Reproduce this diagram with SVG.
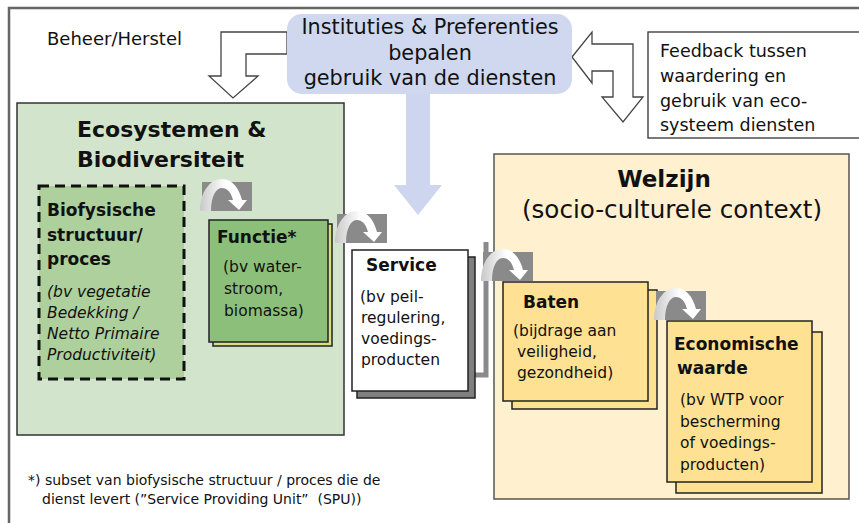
<svg xmlns="http://www.w3.org/2000/svg" width="859" height="523" viewBox="0 0 859 523">
<defs>
<linearGradient id="arcg" x1="0" y1="0" x2="1" y2="0">
<stop offset="0" stop-color="#c9c9c9"/>
<stop offset="0.55" stop-color="#ffffff"/>
<stop offset="1" stop-color="#ffffff"/>
</linearGradient>
<g id="turn">
<rect x="0" y="0" width="50" height="29" fill="#8a8a8a"/>
<path d="M -2 29 C -2 10 8 -3 20 -3 C 30 -3 37 6 40 18 L 45 18 L 37 28 L 26 18 L 31 18 C 29 10 25 6 20 6 C 14 6 9 14 9 29 Z" fill="url(#arcg)"/>
</g>
</defs>
<style>
text{font-family:"DejaVu Sans","Liberation Sans",sans-serif;fill:#111;}
.b{font-weight:bold;}
.i{font-style:italic;}
.box{stroke:#222;stroke-width:1.5;}
.hollow{fill:#fff;stroke:#444;stroke-width:1.3;}
</style>
<rect width="859" height="523" fill="#fff"/>
<!-- frame -->
<path d="M 9 523 V 8 H 859" fill="none" stroke="#666" stroke-width="2.5"/>

<g id="connectors">
<polygon class="hollow" points="287,32 221,32 221,76 209,76 233,98 258,76 246,76 246,54 287,54"/>
<polygon class="hollow" points="572,57 592,32 592,44 633,44 633,97 643,97 623,122 602,97 613,97 613,71 592,71 592,83"/>
<polygon fill="#cdd6ee" points="406,94 430,94 430,185 442,185 418,215 394,185 406,185"/>
<path d="M 486 242 V 375 H 474" fill="none" stroke="#8a8a8a" stroke-width="5"/>
</g>

<g id="beheer"><text x="47" y="45" font-size="18">Beheer/Herstel</text></g>

<g id="instituties">
<rect x="287" y="14" width="285" height="80" rx="15" fill="#cfd8ef"/>
<text x="430" y="34" font-size="20.8" text-anchor="middle">Instituties &amp; Preferenties</text>
<text x="430" y="60" font-size="20.8" text-anchor="middle">bepalen</text>
<text x="430" y="85" font-size="20.8" text-anchor="middle">gebruik van de diensten</text>
</g>

<g id="feedback">
<rect x="648" y="32" width="220" height="106" fill="#fff" stroke="#333" stroke-width="1.3"/>
<text x="660" y="57" font-size="17.5">Feedback tussen</text>
<text x="660" y="82" font-size="17.5">waardering en</text>
<text x="660" y="107" font-size="17.5">gebruik van eco-</text>
<text x="660" y="131" font-size="17.5">systeem diensten</text>
</g>

<g id="ecosystemen">
<rect x="17" y="103" width="327" height="332" fill="#d3e4cc" stroke="#333" stroke-width="1.5"/>
<text class="b" x="77" y="137" font-size="22">Ecosystemen &amp;</text>
<text class="b" x="77" y="167" font-size="22">Biodiversiteit</text>
</g>

<g id="biofysisch">
<rect x="39" y="186" width="145" height="193" fill="#aed09d" stroke="#111" stroke-width="3" stroke-dasharray="10,6"/>
<text class="b" x="47" y="216" font-size="17">Biofysische</text>
<text class="b" x="47" y="241" font-size="17">structuur/</text>
<text class="b" x="47" y="265" font-size="17">proces</text>
<text class="i" x="47" y="297" font-size="15.5">(bv vegetatie</text>
<text class="i" x="47" y="318" font-size="15.5">Bedekking /</text>
<text class="i" x="47" y="339" font-size="15.5">Netto Primaire</text>
<text class="i" x="47" y="360" font-size="15.5">Productiviteit)</text>
</g>

<g id="functie">
<rect class="box" x="213" y="224" width="119" height="122" fill="#d8e07e"/>
<rect class="box" x="209" y="220" width="119" height="122" fill="#8cc07a"/>
<text class="b" x="217" y="243" font-size="17">Functie*</text>
<text x="223" y="272" font-size="15.5">(bv water-</text>
<text x="224" y="294" font-size="15.5">stroom,</text>
<text x="224" y="316" font-size="15.5">biomassa)</text>
</g>

<g id="service">
<rect class="box" x="357" y="257" width="118" height="141" fill="#7f7f7f"/>
<rect class="box" x="352" y="250" width="116" height="141" fill="#fff"/>
<text class="b" x="366" y="271" font-size="17">Service</text>
<text x="360" y="302" font-size="15.5">(bv peil-</text>
<text x="361" y="323" font-size="15.5">regulering,</text>
<text x="361" y="344" font-size="15.5">voedings-</text>
<text x="361" y="365" font-size="15.5">producten</text>
</g>

<g id="welzijn">
<rect x="494" y="154" width="355" height="345" fill="#fff0d0" stroke="#555" stroke-width="1.5"/>
<text class="b" x="664" y="187" font-size="23" text-anchor="middle">Welzijn</text>
<text x="672" y="218" font-size="24.6" text-anchor="middle">(socio-culturele context)</text>
</g>

<g id="baten">
<rect class="box" x="512" y="290" width="145" height="119" fill="#fee193"/>
<rect class="box" x="503" y="282" width="145" height="119" fill="#fee193"/>
<text class="b" x="523" y="308" font-size="17">Baten</text>
<text x="513" y="336" font-size="15.5">(bijdrage aan</text>
<text x="517" y="357" font-size="15.5">veiligheid,</text>
<text x="517" y="378" font-size="15.5">gezondheid)</text>
</g>

<g id="economisch">
<rect class="box" x="676" y="332" width="146" height="161" fill="#fee193"/>
<rect class="box" x="667" y="321" width="145" height="161" fill="#fee193"/>
<text class="b" x="674" y="350" font-size="17">Economische</text>
<text class="b" x="677" y="374" font-size="17">waarde</text>
<text x="680" y="405" font-size="15.5">(bv WTP voor</text>
<text x="680" y="427" font-size="15.5">bescherming</text>
<text x="680" y="448" font-size="15.5">of voedings-</text>
<text x="680" y="470" font-size="15.5">producten)</text>
</g>

<g id="turn-icons">
<use href="#turn" x="202" y="182"/>
<use href="#turn" x="337" y="214"/>
<use href="#turn" x="483" y="252"/>
<use href="#turn" x="656" y="291"/>
</g>

<g id="footnote">
<text x="28" y="485" font-size="14">*) subset van biofysische structuur / proces die de</text>
<text x="42" y="504" font-size="14">dienst levert (”Service Providing Unit”&#160; (SPU))</text>
</g>
</svg>
